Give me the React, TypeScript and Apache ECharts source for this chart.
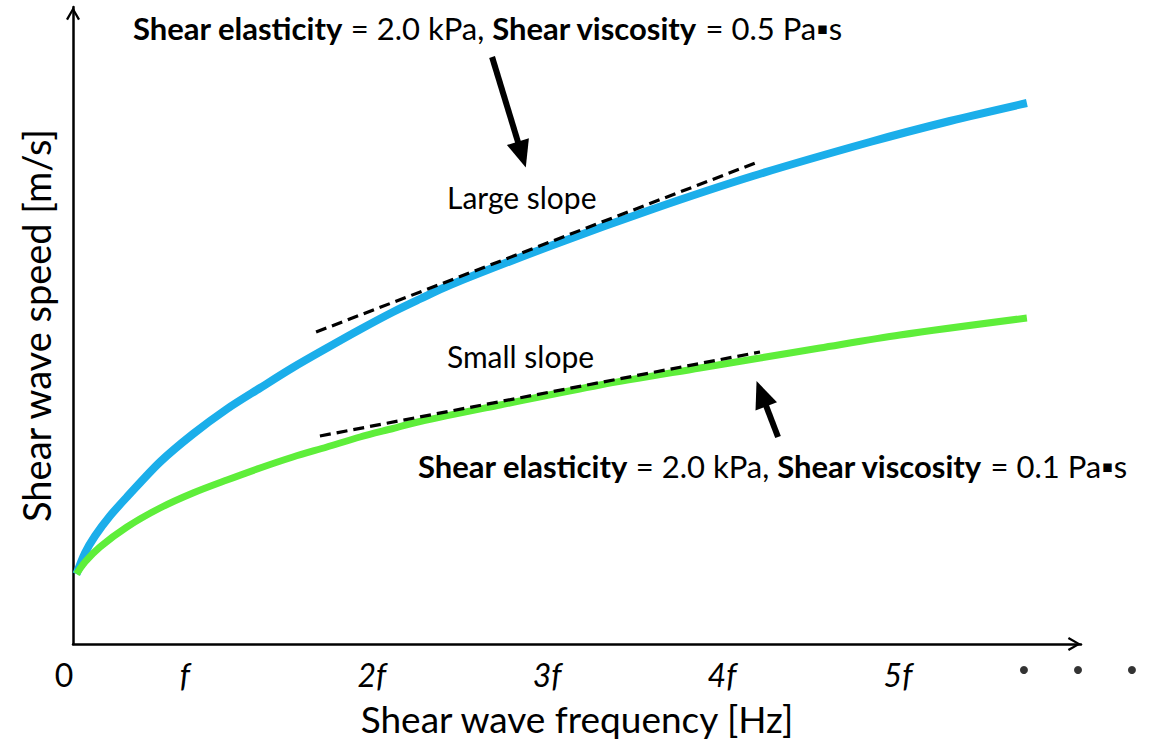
import React, { useEffect, useRef } from "react";
import * as echarts from "echarts";

// x in units of the axis (0 at the origin), y in arbitrary speed units
const blueCurve: [number, number][] = [
  [0.02, 0.7], [0.0685, 0.91], [0.1256, 1.08], [0.211, 1.28], [0.308, 1.47],
  [0.497, 1.82], [0.685, 2.1], [0.879, 2.35], [1.068, 2.56], [1.256, 2.765],
  [1.45, 2.96], [1.639, 3.145], [1.827, 3.32], [1.981, 3.45], [2.153, 3.59],
  [2.741, 3.99], [3.312, 4.35], [3.883, 4.68], [4.551, 5.02], [5.008, 5.23],
  [5.447, 5.41],
];
const greenCurve: [number, number][] = [
  [0.02, 0.7], [0.0685, 0.82], [0.154, 0.97], [0.308, 1.17], [0.497, 1.36],
  [0.685, 1.51], [0.879, 1.64], [1.068, 1.76], [1.256, 1.87], [1.45, 1.97],
  [1.639, 2.07], [1.827, 2.155], [1.981, 2.225], [2.438, 2.39], [3.009, 2.59],
  [3.58, 2.76], [3.923, 2.86], [4.265, 2.96], [4.722, 3.09], [5.447, 3.26],
];
const largeSlopeTangent: [number, number][] = [[1.388, 3.12], [3.911, 4.82]];
const smallSlopeTangent: [number, number][] = [[1.41, 2.08], [3.923, 2.92]];
const upperArrow: [number, number][] = [[2.393, 5.87], [2.563, 4.894]];
const lowerArrow: [number, number][] = [[4.026, 2.07], [3.931, 2.503]];

const xTickPositions = [0, 0.6395, 1.707, 2.707, 3.706, 4.711];
const xTickLabels = ["0", "f", "2f", "3f", "4f", "5f"];
const continuationDots: [number, number][] = [[5.43, -0.26], [5.739, -0.26], [6.047, -0.26]];

const X_MAX = 5.756;
const Y_MAX = 6.37;

const FONT = "Lato";
const ARROW_PATH =
  "path://M0,12 L7,0 L14,12 L12,13.2 L7,4.2 L2,13.2 Z M7,-13.2 L7.05,-13.2 L7.05,-13.15 Z";

export default function App() {
  const ref = useRef<HTMLDivElement>(null);
  useEffect(() => {
    if (!ref.current) return;
    const chart = echarts.init(ref.current, undefined, { renderer: "svg" });
    const axisLine = {
      show: true,
      symbol: ["none", ARROW_PATH],
      symbolSize: [14, 26.4],
      lineStyle: { color: "#000", width: 2.5 },
    };
    const paramRich = { b: { fontFamily: FONT, fontSize: 31, fontWeight: "bold", fill: "#000" } };
    chart.setOption({
      animation: false,
      backgroundColor: "#fff",
      grid: { left: 73, right: 74, top: 7, bottom: 101 },
      xAxis: {
        type: "value",
        min: 0,
        max: X_MAX,
        axisLine,
        axisTick: { show: false },
        splitLine: { show: false },
        axisLabel: {
          customValues: xTickPositions,
          margin: 14,
          fontFamily: FONT,
          fontSize: 32,
          color: "#000",
          formatter: (v: number) => {
            const i = xTickPositions.findIndex((p) => Math.abs(p - v) < 1e-6);
            if (i < 0) return "";
            return i === 0 ? `{n|${xTickLabels[i]}}` : `{i|${xTickLabels[i]}}`;
          },
          rich: {
            n: { fontFamily: FONT, fontSize: 32, fontStyle: "normal", color: "#000", padding: [0, 18, 0, 0] },
            i: { fontFamily: FONT, fontSize: 32, fontStyle: "italic", color: "#000" },
          },
        },
        name: "Shear wave frequency [Hz]",
        nameLocation: "middle",
        nameGap: 56,
        nameTextStyle: { fontFamily: FONT, fontSize: 37, color: "#000" },
      },
      yAxis: {
        type: "value",
        min: 0,
        max: Y_MAX,
        axisLine,
        axisTick: { show: false },
        axisLabel: { show: false },
        splitLine: { show: false },
        name: "Shear wave speed [m/s]",
        nameLocation: "middle",
        nameGap: 18,
        nameTextStyle: { fontFamily: FONT, fontSize: 38, color: "#000" },
      },
      series: [
        {
          type: "line",
          data: blueCurve,
          smooth: 0.3,
          showSymbol: false,
          symbol: "none",
          lineStyle: { color: "#1BAEEA", width: 8 },
          silent: true,
          z: 2,
        },
        {
          type: "line",
          data: greenCurve,
          smooth: 0.3,
          showSymbol: false,
          symbol: "none",
          lineStyle: { color: "#5EEE3A", width: 7 },
          silent: true,
          z: 2,
        },
        {
          type: "line",
          data: largeSlopeTangent,
          symbol: "none",
          lineStyle: { color: "#000", width: 3.2, type: [11, 6] },
          silent: true,
          z: 3,
        },
        {
          type: "line",
          data: smallSlopeTangent,
          symbol: "none",
          lineStyle: { color: "#000", width: 3.2, type: [11, 6] },
          silent: true,
          z: 3,
        },
        {
          type: "line",
          data: [],
          silent: true,
          z: 4,
          markLine: {
            silent: true,
            symbol: ["none", "triangle"],
            symbolSize: [23, 27],
            label: { show: false },
            lineStyle: { color: "#000", width: 6, type: "solid" },
            emphasis: { disabled: true },
            data: [
              [{ coord: upperArrow[0] }, { coord: upperArrow[1] }],
              [{ coord: lowerArrow[0] }, { coord: lowerArrow[1] }],
            ],
          },
        },
        {
          type: "scatter",
          data: continuationDots,
          symbol: "circle",
          symbolSize: 8,
          itemStyle: { color: "#000" },
          clip: false,
          silent: true,
        },
      ],
      graphic: [
        {
          type: "text",
          x: 133,
          y: 28,
          style: {
            text: "{b|Shear elasticity} = 2.0 kPa, {b|Shear viscosity} = 0.5 Pa\u25AAs",
            fontFamily: FONT,
            fontSize: 31,
            fill: "#000",
            verticalAlign: "middle",
            rich: paramRich,
          },
        },
        {
          type: "text",
          x: 447,
          y: 197,
          style: { text: "Large slope", fontFamily: FONT, fontSize: 30, fill: "#000", verticalAlign: "middle" },
        },
        {
          type: "text",
          x: 447,
          y: 356,
          style: { text: "Small slope", fontFamily: FONT, fontSize: 30, fill: "#000", verticalAlign: "middle" },
        },
        {
          type: "text",
          x: 418,
          y: 466,
          style: {
            text: "{b|Shear elasticity} = 2.0 kPa, {b|Shear viscosity} = 0.1 Pa\u25AAs",
            fontFamily: FONT,
            fontSize: 31,
            fill: "#000",
            verticalAlign: "middle",
            rich: paramRich,
          },
        },
      ],
    });
    return () => chart.dispose();
  }, []);
  return (
    <div
      ref={ref}
      style={{ position: "fixed", left: 0, top: 0, width: 1155, height: 745, background: "#fff" }}
    />
  );
}
